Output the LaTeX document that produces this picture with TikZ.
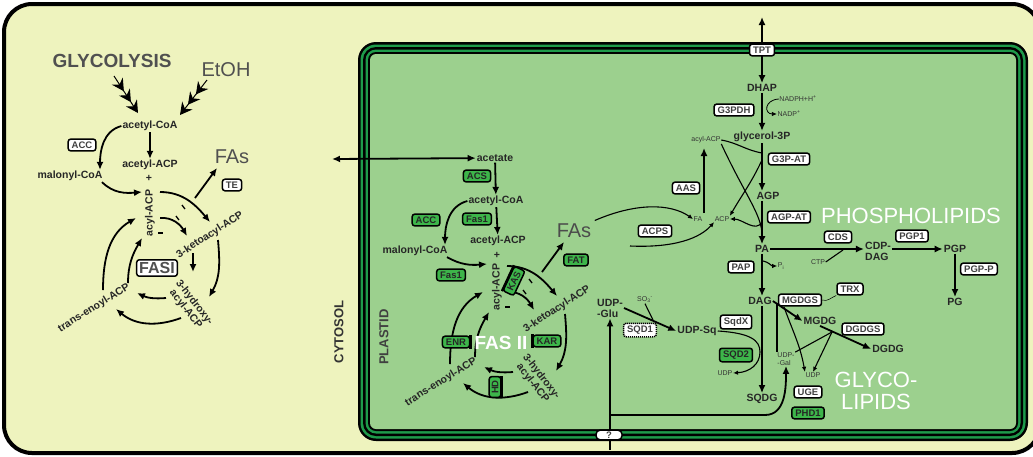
\documentclass[tikz,border=0pt]{standalone}
\usepackage{fontspec}
\setmainfont{Liberation Sans}
\usetikzlibrary{arrows.meta}
\definecolor{cyto}{HTML}{EEF3BE}
\definecolor{plast}{HTML}{9CD08E}
\definecolor{mem}{HTML}{1E9A4A}
\definecolor{enzg}{HTML}{3DB54A}
\definecolor{greytxt}{HTML}{505050}
\pgfdeclarelayer{bg}
\pgfdeclarelayer{lines}
\pgfsetlayers{bg,lines,main}
\tikzset{
  lbl/.style={font=\bfseries\fontsize{10.5}{11}\selectfont, text=black!85, inner sep=1pt},
  tinylbl/.style={font=\fontsize{7}{7.5}\selectfont, text=black!80, inner sep=0.5pt},
  ebox/.style={draw=black, line width=1.5pt, fill=white, rounded corners=2.5pt, font=\bfseries\fontsize{9.5}{10}\selectfont, text=black!75, inner xsep=3.5pt, inner ysep=2.5pt},
  gbox/.style={ebox, fill=enzg, text=black!85},
  arr/.style={line width=1.8pt, -{Latex[length=8pt,width=7pt]}},
  tarr/.style={line width=1.1pt, -{Latex[length=5pt,width=4.5pt]}},
  tline/.style={line width=1.1pt},
  darr/.style={line width=1.8pt, {Latex[length=8pt,width=7pt]}-{Latex[length=8pt,width=7pt]}},
  chev/.style={line width=1pt, -{Stealth[length=12pt,width=13pt,inset=4pt,sep=1pt] Stealth[length=12pt,width=13pt,inset=4pt,sep=1pt] Stealth[length=12pt,width=13pt,inset=4pt]}},
  bigw/.style={text=white, font=\fontsize{22}{22}\selectfont, align=center, inner sep=0pt},
  bar/.style={line width=2.5pt},
}
\newcommand{\fascycle}{%
  \node[lbl, rotate=90] (acyl) at (150,213) {acyl-ACP};
  \node[lbl, rotate=33] (keto) at (210,235) {3-ketoacyl-ACP};
  \node[lbl, rotate=-52, align=center] (hydr) at (190,306) {3-hydroxy-\\acyl-ACP};
  \node[lbl, rotate=32] (enoyl) at (94,308) {trans-enoyl-ACP};
  \coordinate (o1a) at (160,192); \coordinate (o1b) at (210,222);
  \coordinate (o2a) at (218,240); \coordinate (o2b) at (209,297);
  \coordinate (o3a) at (181,318); \coordinate (o3b) at (116,309);
  \coordinate (o4a) at (103,290); \coordinate (o4b) at (136,218);
  \coordinate (i1a) at (160,218); \coordinate (i1b) at (187,236);
  \coordinate (i3a) at (166,298); \coordinate (i3b) at (137,293);
  \coordinate (i4a) at (128,283); \coordinate (i4b) at (142,238);
  \coordinate (fa1) at (195,198); \coordinate (fa2) at (217,168);
  \coordinate (t1a) at (158,233); \coordinate (t1b) at (163,233);
  \coordinate (t2a) at (176,216); \coordinate (t2b) at (179,220);
  \coordinate (t3a) at (182,205); \coordinate (t3b) at (185,209);
  \begin{pgfonlayer}{lines}
  \draw[arr] (o1a) to[out=0,in=130] (o1b);
  \draw[arr] (o2a) to[out=-85,in=60] (o2b);
  \draw[arr] (o3a) to[out=200,in=-40] (o3b);
  \draw[arr] (o4a) to[out=90,in=210] (o4b);
  \draw[arr] (i1a) to[out=5,in=120] (i1b);
  \draw[arr] (i3a) to[out=185,in=-25] (i3b);
  \draw[arr] (i4a) to[out=90,in=240] (i4b);
  \draw[arr] (fa1) -- (fa2);
  \draw[line width=1.3pt] (t1a) -- (t1b);
  \draw[line width=1.3pt] (t2a) -- (t2b);
  \draw[line width=1.3pt] (t3a) -- (t3b);
  \end{pgfonlayer}
}
\begin{document}
\begin{tikzpicture}[x=1pt,y=-1pt]
\useasboundingbox (0,0) rectangle (1033,456);
\begin{pgfonlayer}{bg}
\fill[white] (0,0) rectangle (1033,456);
\draw[line width=4pt, fill=cyto, rounded corners=28pt] (4,4) rectangle (1040,453);
\fill[black, rounded corners=18pt] (358,42) rectangle (1028,441);
\fill[mem, rounded corners=15.5pt] (360.5,44.5) rectangle (1025.5,438.5);
\fill[black, rounded corners=13pt] (363,47) rectangle (1023,436);
\fill[mem, rounded corners=10.5pt] (365.5,49.5) rectangle (1020.5,433.5);
\fill[black, rounded corners=8pt] (368,52) rectangle (1018,431);
\fill[plast, rounded corners=6pt] (370,54) rectangle (1016,429);
\end{pgfonlayer}

% ---------------- CYTOSOL ----------------
\node[font=\bfseries\fontsize{19}{20}\selectfont, text=greytxt] (glyc) at (112,61) {GLYCOLYSIS};
\node[font=\fontsize{20}{20}\selectfont, text=greytxt] (etoh) at (226,70) {EtOH};
\node[lbl] (acoa) at (150,126) {acetyl-CoA};
\node[lbl] (aacp) at (150,165) {acetyl-ACP};
\node[lbl] (plusA) at (149,178) {+};
\node[lbl] (mcoa) at (70,176) {malonyl-CoA};
\node[ebox] (accA) at (82,145) {ACC};
\node[font=\fontsize{20}{20}\selectfont, text=greytxt] (fasA) at (232,157) {FAs};
\node[ebox] (te) at (232,185) {TE};
\node[ebox, font=\bfseries\fontsize{16}{16}\selectfont, inner sep=2.5pt, text=greytxt] (fasI) at (157,268) {FASI};
\node[font=\bfseries\fontsize{13}{13}\selectfont, rotate=90, text=black!80] (cytosol) at (339,332) {CYTOSOL};
\coordinate (glycS) at (114,76); \coordinate (glycE) at (138,113);
\coordinate (etohS) at (207,80); \coordinate (etohE) at (180,115);
\coordinate (acylInA) at (142,192);
\coordinate (i2a) at (193,253); \coordinate (i2b) at (193,272);
\begin{scope}[name prefix=a-]\fascycle\end{scope}
\begin{pgfonlayer}{lines}
\draw[chev] (glycS) -- (glycE);
\draw[chev] (etohS) -- (etohE);
\draw[arr] (acoa) -- (aacp);
\draw[arr] (acoa.west) to[out=195,in=90] ([xshift=30pt]mcoa.north);
\draw[arr] ([xshift=32pt]mcoa.south) to[out=-45,in=185] (acylInA);
\draw[arr] (i2a) -- (i2b);
\end{pgfonlayer}

% ---------------- PLASTID: FAS II ----------------
\node[lbl] (acet) at (495,158) {acetate};
\node[gbox] (acs) at (477,176) {ACS};
\node[lbl] (acoaB) at (496,201) {acetyl-CoA};
\node[gbox] (fas1a) at (477,219) {Fas1};
\node[gbox] (accB) at (426,220) {ACC};
\node[lbl] (mcoaB) at (415,251) {malonyl-CoA};
\node[lbl] (aacpB) at (498,241) {acetyl-ACP};
\node[lbl] (plusB) at (497,255) {+};
\node[gbox] (fas1b) at (451,275) {Fas1};
\coordinate (acylInB) at (487,264);
\coordinate (cytAcet) at (332,159);
\begin{scope}[shift={(347,74)}, name prefix=b-]\fascycle\end{scope}
\node[font=\fontsize{20}{20}\selectfont, text=black!70] (fasB) at (574,231) {FAs};
\node[gbox] (fat) at (576,260) {FAT};
\node[gbox, rotate=65] (kas) at (514,281) {KAS};
\draw[bar] (kas.north west) -- (kas.north east);
\node[gbox] (kar) at (547,341) {KAR};
\draw[bar] (kar.north west) -- (kar.south west);
\node[gbox, rotate=90] (hd) at (495,387) {HD};
\draw[bar] (hd.south west) -- (hd.south east);
\node[gbox] (enr) at (456,342) {ENR};
\draw[bar] (enr.north east) -- (enr.south east);
\node[font=\bfseries\fontsize{19}{19}\selectfont, text=white] (fasII) at (501,343) {FAS II};
\node[font=\bfseries\fontsize{13}{13}\selectfont, rotate=90, text=black!75] (plastid) at (384,337) {PLASTID};
\begin{pgfonlayer}{lines}
\draw[darr] (cytAcet) -- (acet);
\draw[arr] (acet) -- (acoaB);
\draw[arr] (acoaB) -- (aacpB);
\draw[arr] (acoaB.west) to[out=195,in=90] ([xshift=30pt]mcoaB.north);
\draw[arr] ([xshift=32pt]mcoaB.south) to[out=-30,in=185] (acylInB);
\end{pgfonlayer}

% ---------------- PLASTID: glycerolipids ----------------
\node[ebox] (tpt) at (762,50) {TPT};
\coordinate (tptTop) at (762,17);
\node[lbl] (dhap) at (762,88) {DHAP};
\node[ebox] (g3pdh) at (734,110) {G3PDH};
\node[tinylbl] (nadph) at (798,99) {NADPH+H\textsuperscript{+}};
\node[tinylbl] (nadp) at (789,114) {NADP\textsuperscript{+}};
\node[lbl] (g3p) at (762,137) {glycerol-3P};
\node[tinylbl] (acylP) at (706,140) {acyl-ACP};
\node[ebox] (g3pat) at (789,159) {G3P-AT};
\node[ebox] (aas) at (686,188) {AAS};
\node[lbl] (agp) at (768,196) {AGP};
\node[ebox] (agpat) at (789,217) {AGP-AT};
\node[tinylbl] (fa) at (698,219) {FA};
\node[tinylbl] (acp) at (722,219) {ACP};
\node[ebox] (acps) at (655,231) {ACPS};
\node[lbl] (pa) at (762,249) {PA};
\node[ebox] (cds) at (838,237) {CDS};
\node[tinylbl] (ctp) at (818,262) {CTP};
\node[lbl, align=left] (cdpdag) at (878,251) {CDP-\\DAG};
\node[ebox] (pgp1) at (912,236) {PGP1};
\node[lbl] (pgp) at (955,249) {PGP};
\node[ebox] (pgpp) at (979,269) {PGP-P};
\node[lbl] (pg) at (955,302) {PG};
\node[bigw] (phos) at (911,216) {PHOSPHOLIPIDS};
\node[ebox] (pap) at (741,267) {PAP};
\node[tinylbl] (pi) at (781,266) {P\textsubscript{i}};
\node[lbl] (dag) at (760,301) {DAG};
\node[ebox] (mgdgs) at (800,300) {MGDGS};
\node[ebox] (trx) at (850,289) {TRX};
\node[lbl] (mgdg) at (820,321) {MGDG};
\node[ebox] (dgdgs) at (863,329) {DGDGS};
\node[lbl] (dgdg) at (888,349) {DGDG};
\node[tinylbl, align=left] (udpgal) at (786,359) {UDP-\\-Gal};
\node[tinylbl] (udpB) at (813,375) {UDP};
\node[ebox] (uge) at (808,392) {UGE};
\node[gbox] (phd1) at (808,413) {PHD1};
\node[bigw] (glyco) at (876,391) {GLYCO-\\LIPIDS};
\node[ebox] (sqdx) at (736,322) {SqdX};
\node[gbox] (sqd2) at (736,355) {SQD2};
\node[tinylbl] (udpA) at (725,373) {UDP};
\node[lbl] (sqdg) at (762,399) {SQDG};
\node[lbl] (udpsq) at (697,331) {UDP-Sq};
\node[lbl, align=left] (udpglu) at (610,308) {UDP-\\-Glu};
\node[tinylbl] (so3) at (645,300) {SO\textsubscript{3}\textsuperscript{-}};
\node[ebox, dash pattern=on 1.2pt off 0.8pt] (sqd1) at (640,330) {SQD1};
\node[ebox, minimum width=26pt, rounded corners=4pt, inner ysep=1.5pt] (qbox) at (609,435) {?};

\coordinate (j1) at (762,153);
\coordinate (j2) at (762,160);
\coordinate (j3) at (762,235);
\coordinate (j4) at (762,222);
\coordinate (aasB) at (704,213);
\coordinate (aasT) at (704,148);
\coordinate (acpsS) at (630,246);
\coordinate (ctpj) at (843,250);
\coordinate (pij) at (763,261);
\coordinate (m1) at (777,304);
\coordinate (m2) at (784,307);
\coordinate (m3) at (832,332);
\coordinate (so3j) at (653,320);
\coordinate (sqj) at (760,352);
\coordinate (qbot) at (610,450);
\coordinate (hj) at (610,415);
\coordinate (hk) at (765,415);

\begin{pgfonlayer}{lines}
\draw[darr] (tptTop) -- (dhap);
\draw[arr] (dhap) -- (g3p);
\draw[tarr, line width=0.8pt] (nadph.west) .. controls (764,100) and (764,114) .. (nadp.west);
\draw[arr] (g3p) -- (g3p |- agp.north);
\draw[arr] (g3p |- agp.south) -- (pa);
\draw[tline] (acylP.east) to[out=-10,in=170] (j1);
\draw[tarr] (j2) to[out=-115,in=60] (acp.north east);
\draw[tline] (acylP.south east) .. controls (745,195) and (762,215) .. (j3);
\draw[tarr] (j4) to[out=-120,in=0] (acp.east);
\draw[arr, line width=1.6pt] (aasB) -- (aasT);
\draw[tarr] (fasB.north east) .. controls (635,203) and (670,203) .. (fa.west);
\draw[tarr] (acpsS) .. controls (675,248) and (700,238) .. (acp.south west);
\draw[arr] (pa) -- (cdpdag.west |- pa);
\draw[tline] (ctp.east) -- (ctpj);
\draw[arr] (cdpdag.east |- pgp) -- (pgp);
\draw[arr] (pgp) -- (pg);
\draw[arr] (pa) -- (pa |- dag.north);
\draw[tarr] (pij) to[out=-10,in=180] (pi.west);
\draw[arr] (pa |- dag.south) -- (pa |- sqdg.north);
\draw[arr] (dag.east) -- (mgdg.west);
\draw[arr] (mgdg.south) -- (dgdg.west);
\draw[line width=0.5pt] (mgdgs.east) to[out=-20,in=200] (trx.south west);
\draw[tline] (m1) -- (m1 |- udpgal.north);
\draw[tarr] (m2) to[out=-70,in=100] (udpB.north west);
\draw[tline] (udpgal.north east) -- (m3);
\draw[tarr] (m3) -- (udpB.north);
\draw[arr] (udpglu.east) -- (udpsq.west);
\draw[tline] (so3.south) -- (so3j);
\draw[tline] (udpsq.east) .. controls (750,333) and (760,340) .. (sqj);
\draw[tarr] (sqj) .. controls (760,364) and (750,372) .. (udpA.east);
\draw[arr] (qbot) -- (udpglu.south);
\draw[arr] (hj) -- (hk) to[out=0,in=-90] (udpgal.south);
\end{pgfonlayer}
\end{tikzpicture}
\end{document}
